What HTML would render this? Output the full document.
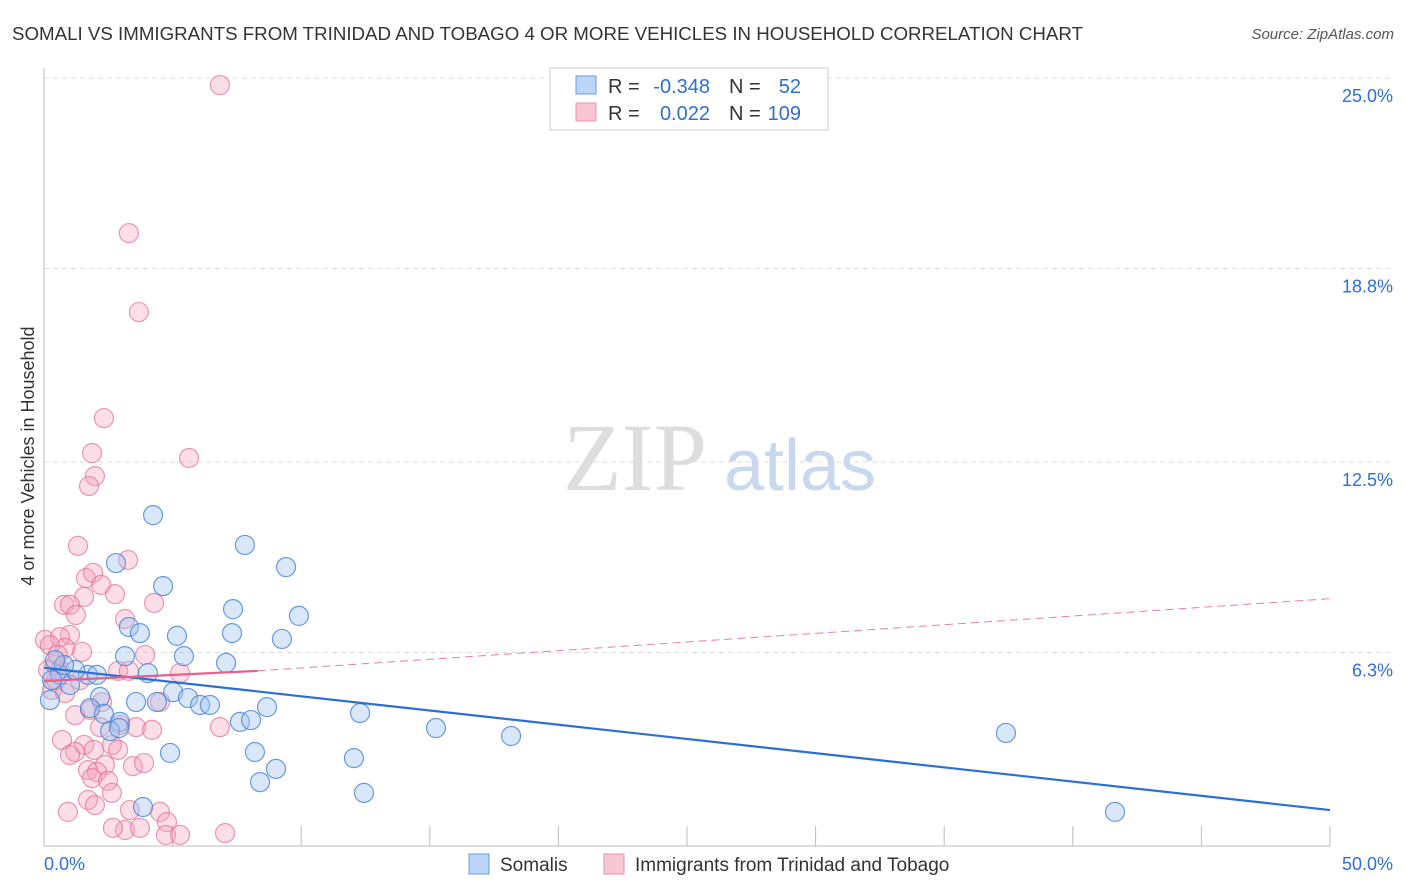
<!DOCTYPE html>
<html><head><meta charset="utf-8"><style>
body{margin:0;background:#fff;font-family:"Liberation Sans",sans-serif}
svg{display:block}
</style></head><body>
<svg width="1406" height="892" id="chart" font-family="Liberation Sans, sans-serif">
<text x="12" y="40" font-size="18" fill="#333" textLength="1071" lengthAdjust="spacingAndGlyphs">SOMALI VS IMMIGRANTS FROM TRINIDAD AND TOBAGO 4 OR MORE VEHICLES IN HOUSEHOLD CORRELATION CHART</text>
<text x="1394" y="39" font-size="15" fill="#555" font-style="italic" text-anchor="end">Source: ZipAtlas.com</text>
<text x="635" y="490" font-size="96" fill="#ddd" font-family="Liberation Serif, serif" text-anchor="middle">ZIP</text>
<text x="800" y="490" font-size="72" fill="#c8d8ee" text-anchor="middle">atlas</text>
<text transform="translate(34,456) rotate(-90)" font-size="18" fill="#333" text-anchor="middle">4 or more Vehicles in Household</text>
<g id="grid"></g><g id="pts"></g><g id="lines"></g>
<g font-size="20">
<rect x="550" y="68" width="278" height="62" fill="#fff" stroke="#ccc"/>
<rect x="576" y="76" width="20" height="18" fill="#bcd4f5" stroke="#6a9be0"/>
<rect x="576" y="103" width="20" height="18" fill="#f9c6d4" stroke="#e890aa"/>
<text x="608" y="93" fill="#333">R =</text>
<text x="710" y="93" fill="#2e6fd4" text-anchor="end">-0.348</text>
<text x="729" y="93" fill="#333">N =</text>
<text x="801" y="93" fill="#2e6fd4" text-anchor="end">52</text>
<text x="608" y="120" fill="#333">R =</text>
<text x="710" y="120" fill="#2e6fd4" text-anchor="end">0.022</text>
<text x="729" y="120" fill="#333">N =</text>
<text x="801" y="120" fill="#2e6fd4" text-anchor="end">109</text>
</g>
<g>
<rect x="469" y="854" width="20" height="20" fill="#bcd4f5" stroke="#6a9be0"/>
<text x="500" y="871" font-size="19" fill="#333">Somalis</text>
<rect x="604" y="854" width="20" height="20" fill="#f9c6d4" stroke="#e890aa"/>
<text x="635" y="871" font-size="19" fill="#333">Immigrants from Trinidad and Tobago</text>
</g>
</svg>
<script>
const yTicks=[6.3,12.5,18.8,25.0];
const xLabels=["0.0%","50.0%"];
const somaliPx=[[153,515],[245,545],[286,567],[163,586],[116,563],[233,609],[299,616],[129,627],[140,633],[177,636],[232,633],[282,639],[125,656],[184,656],[226,663],[148,673],[88,675],[60,675],[97,675],[100,697],[173,692],[188,698],[200,705],[210,705],[157,702],[136,702],[90,708],[104,714],[120,722],[110,731],[119,728],[240,722],[251,720],[267,707],[360,713],[436,728],[511,736],[1006,733],[170,753],[255,752],[354,758],[276,769],[260,782],[364,793],[143,807],[1115,812],[50,700],[52,680],[70,685],[75,670],[64,665],[55,660]];
const trinPx=[[220,85],[129,233],[139,312],[104,418],[189,458],[92,453],[95,476],[89,486],[78,546],[128,560],[86,578],[93,573],[101,585],[84,597],[64,605],[70,605],[154,603],[115,594],[76,615],[125,619],[45,640],[70,635],[60,637],[82,652],[65,648],[145,655],[180,673],[118,671],[129,671],[55,665],[60,670],[80,680],[52,690],[65,693],[90,710],[102,702],[160,702],[75,715],[100,727],[120,725],[136,727],[152,730],[220,727],[62,740],[84,745],[112,745],[75,752],[94,750],[70,755],[118,750],[133,766],[144,763],[105,765],[88,770],[97,772],[92,778],[108,781],[112,793],[88,800],[68,812],[95,805],[130,810],[160,812],[125,830],[140,828],[113,828],[167,822],[166,835],[180,835],[225,833],[50,645],[48,670],[56,680],[58,655]];
const somaliX=somaliPx.map(p=>+((p[0]-44)/25.72).toFixed(2)), somaliY=somaliPx.map(p=>+((846-p[1])/30.72).toFixed(2));
const trinX=trinPx.map(p=>+((p[0]-44)/25.72).toFixed(2)), trinY=trinPx.map(p=>+((846-p[1])/30.72).toFixed(2));
const blueFit=[[0,5.80],[50,1.17]];
const pinkFit=[[0,5.37],[8.3,5.70],[50,8.05]];
const X=v=>44+v*25.72, Y=v=>846-v*30.72;
const NS="http://www.w3.org/2000/svg";
function mk(t,a,parent){const e=document.createElementNS(NS,t);for(const k in a)e.setAttribute(k,a[k]);parent.appendChild(e);return e;}
const grid=document.getElementById('grid');
mk('line',{x1:44,y1:68,x2:44,y2:846,stroke:'#bbb'},grid);
mk('line',{x1:44,y1:846,x2:1330,y2:846,stroke:'#bbb'},grid);
yTicks.forEach(t=>{
 const l=mk('line',{x1:44,y1:Y(t),x2:1394,y2:Y(t),stroke:'#ddd','stroke-dasharray':'5,4'},grid);
 
 
 const tx=mk('text',{x:1393,y:Y(t)+24,'font-size':18,fill:'#2e6fd4','text-anchor':'end'},grid);
 tx.textContent=t.toFixed(1)+'%';
 
 
});
for(let i=0;i<=10;i++){const l=mk('line',{x1:X(i*5),y1:826,x2:X(i*5),y2:846,stroke:'#bbb'},grid);
 
 }
xLabels.forEach((s,i)=>{const t=mk('text',{x:i?1393:44,y:870,'font-size':18,fill:'#2e6fd4','text-anchor':i?'end':'start'},grid);t.textContent=s;
 
 });
const pts=document.getElementById('pts');
trinX.forEach((x,i)=>{const c=mk('circle',{cx:X(x),cy:Y(trinY[i]),r:9.5,fill:'rgba(244,160,185,0.35)',stroke:'rgba(230,110,145,0.7)','stroke-width':1.2},pts);
 
 });
somaliX.forEach((x,i)=>{const c=mk('circle',{cx:X(x),cy:Y(somaliY[i]),r:9.5,fill:'rgba(160,195,240,0.4)',stroke:'rgba(70,130,215,0.8)','stroke-width':1.2},pts);
 
 });
const lg=document.getElementById('lines');
const b=mk('line',{x1:X(blueFit[0][0]),y1:Y(blueFit[0][1]),x2:X(blueFit[1][0]),y2:Y(blueFit[1][1]),stroke:'#2a6fd8','stroke-width':2.2},lg);


const p1=mk('line',{x1:X(pinkFit[0][0]),y1:Y(pinkFit[0][1]),x2:X(pinkFit[1][0]),y2:Y(pinkFit[1][1]),stroke:'#e8608a','stroke-width':2.2},lg);


const p2=mk('line',{x1:X(pinkFit[1][0]),y1:Y(pinkFit[1][1]),x2:X(pinkFit[2][0]),y2:Y(pinkFit[2][1]),stroke:'#e8809f','stroke-width':1,'stroke-dasharray':'8,5'},lg);


</script>
</body></html>
